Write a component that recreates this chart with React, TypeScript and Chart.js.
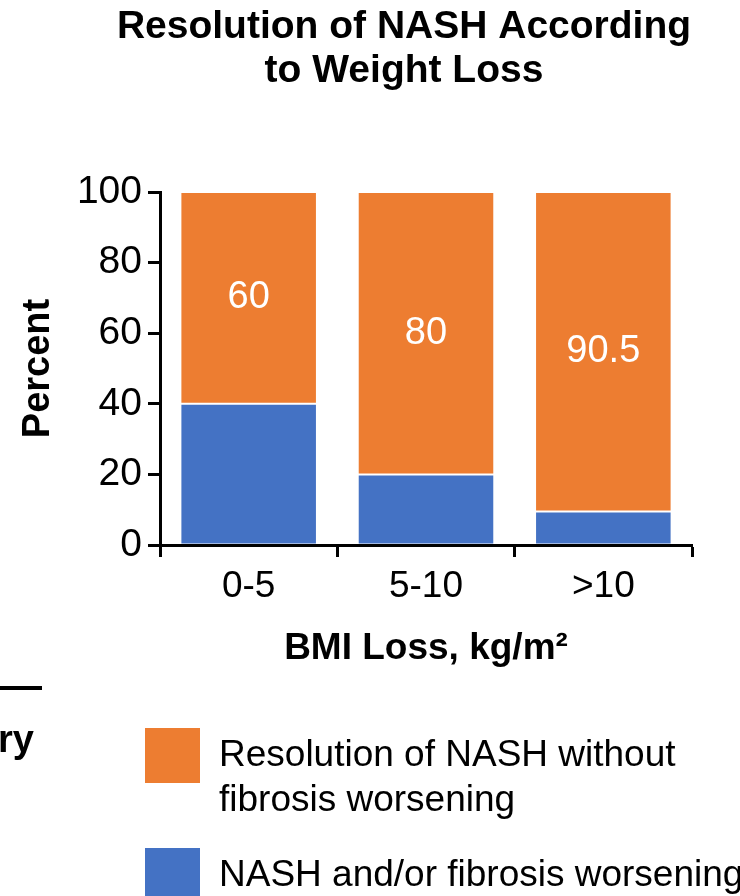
import React, { useEffect, useRef } from "react";
import { Chart, registerables } from "chart.js";

Chart.register(...registerables);

const titleLines = ["Resolution of NASH According", "to Weight Loss"];
const categories = ["0-5", "5-10", ">10"];
const worseningValues = [40, 20, 9.5];
const resolutionValues = [60, 80, 90.5];
const resolutionLabels = ["60", "80", "90.5"];
const yTickValues = [0, 20, 40, 60, 80, 100];
const yAxisTitle = "Percent";
const xAxisTitle = "BMI Loss, kg/m²";
const resolutionLegend = ["Resolution of NASH without", "fibrosis worsening"];
const worseningLegend = ["NASH and/or fibrosis worsening"];
const croppedFragment = "ry";

const ORANGE = "#ED7D31";
const BLUE = "#4472C4";
const FONT = "'Liberation Sans', Arial, Helvetica, sans-serif";

const titlePlugin = {
  id: "slideTitle",
  afterDraw(chart: any) {
    const ctx = chart.ctx;
    ctx.save();
    ctx.fillStyle = "#000";
    ctx.font = `bold 39px ${FONT}`;
    ctx.textAlign = "center";
    ctx.textBaseline = "middle";
    titleLines.forEach((line, i) => ctx.fillText(line, 404, 27 + i * 44));
    ctx.restore();
  },
};

const segmentLabelPlugin = {
  id: "segmentLabels",
  afterDatasetsDraw(chart: any) {
    const ctx = chart.ctx;
    const meta = chart.getDatasetMeta(1);
    ctx.save();
    ctx.fillStyle = "#fff";
    ctx.font = `38px ${FONT}`;
    ctx.textAlign = "center";
    ctx.textBaseline = "middle";
    meta.data.forEach((el: any, i: number) => {
      ctx.fillText(resolutionLabels[i], el.x, (el.y + el.base) / 2);
    });
    ctx.restore();
  },
};

const customLegendPlugin = {
  id: "customLegend",
  afterDraw(chart: any) {
    const ctx = chart.ctx;
    const items = [
      { color: chart.data.datasets[1].backgroundColor, lines: resolutionLegend, top: 728 },
      { color: chart.data.datasets[0].backgroundColor, lines: worseningLegend, top: 848 },
    ];
    ctx.save();
    items.forEach((it) => {
      ctx.fillStyle = it.color;
      ctx.fillRect(145, it.top, 55, 55);
      ctx.fillStyle = "#000";
      ctx.font = `37px ${FONT}`;
      ctx.textAlign = "left";
      ctx.textBaseline = "middle";
      it.lines.forEach((ln: string, i: number) => ctx.fillText(ln, 219, it.top + 28 + i * 45));
    });
    // cropped fragment of neighbouring slide content
    ctx.fillStyle = "#000";
    ctx.fillRect(0, 686, 42, 4);
    ctx.font = `bold 38px ${FONT}`;
    ctx.textBaseline = "alphabetic";
    ctx.fillText(croppedFragment, -2, 752);
    ctx.restore();
  },
};

export default function App() {
  const canvasRef = useRef<HTMLCanvasElement | null>(null);

  useEffect(() => {
    if (!canvasRef.current) return;
    const chart = new Chart(canvasRef.current, {
      type: "bar",
      data: {
        labels: categories,
        datasets: [
          {
            label: worseningLegend.join(" "),
            data: worseningValues,
            backgroundColor: BLUE,
            borderColor: "rgba(255,255,255,0.75)",
            borderWidth: 1,
            borderSkipped: false,
            barPercentage: 0.77,
            categoryPercentage: 1,
          },
          {
            label: resolutionLegend.join(" "),
            data: resolutionValues,
            backgroundColor: ORANGE,
            borderColor: "rgba(255,255,255,0.75)",
            borderWidth: 1,
            borderSkipped: false,
            barPercentage: 0.77,
            categoryPercentage: 1,
          },
        ],
      },
      options: {
        animation: false,
        responsive: false,
        maintainAspectRatio: false,
        layout: { padding: { top: 192, left: 12, right: 48, bottom: 221 } },
        plugins: {
          legend: { display: false },
          title: { display: false },
          tooltip: { enabled: false },
        },
        scales: {
          x: {
            stacked: true,
            offset: true,
            grid: {
              display: true,
              offset: true,
              drawOnChartArea: false,
              drawTicks: true,
              tickLength: 12,
              tickWidth: 3,
              tickColor: "#000",
              z: 1,
            },
            border: { display: true, color: "#000", width: 3, z: 1 },
            ticks: { color: "#000", font: { family: FONT, size: 37 }, padding: 8, maxRotation: 0 },
            title: {
              display: true,
              text: xAxisTitle,
              color: "#000",
              font: { family: FONT, size: 37, weight: "bold" },
              padding: { top: 4, bottom: 4 },
            },
            afterFit: (s: any) => {
              s.height = 130;
            },
          },
          y: {
            stacked: true,
            min: 0,
            max: 100,
            afterBuildTicks: (s: any) => {
              s.ticks = yTickValues.map((v) => ({ value: v }));
            },
            grid: {
              display: true,
              drawOnChartArea: false,
              drawTicks: true,
              tickLength: 12,
              tickWidth: 3,
              tickColor: "#000",
              z: 1,
            },
            border: { display: true, color: "#000", width: 3, z: 1 },
            ticks: { color: "#000", font: { family: FONT, size: 39 }, padding: 6 },
            title: {
              display: true,
              text: yAxisTitle,
              color: "#000",
              font: { family: FONT, size: 38, weight: "bold" },
              padding: { top: 4, bottom: 4 },
            },
            afterFit: (s: any) => {
              s.width = 148;
            },
          },
        },
      },
      plugins: [titlePlugin, segmentLabelPlugin, customLegendPlugin],
    } as any);
    return () => chart.destroy();
  }, []);

  return (
    <div style={{ position: "absolute", left: 0, top: 0, width: 740, height: 896, background: "#fff" }}>
      <canvas ref={canvasRef} width={740} height={896} />
    </div>
  );
}
